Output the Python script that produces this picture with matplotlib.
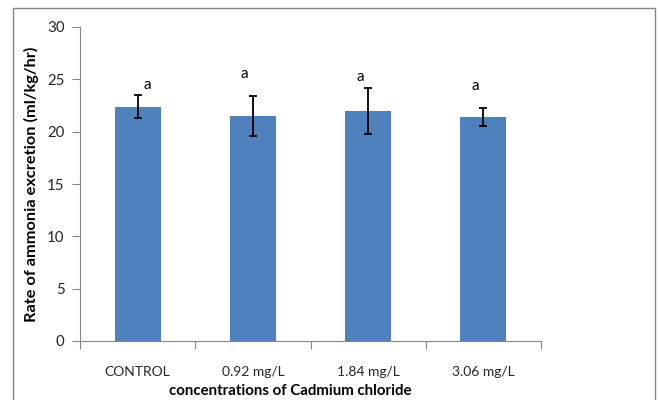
import matplotlib.pyplot as plt
from matplotlib.patches import Rectangle
import numpy as np

plt.rcParams['font.family'] = ['Lato', 'DejaVu Sans']

groups = ['CONTROL', '0.92 mg/L', '1.84 mg/L', '3.06 mg/L']
rate = [22.4, 21.5, 21.95, 21.4]
err = [1.1, 1.9, 2.2, 0.9]
letters = ['a', 'a', 'a', 'a']
letter_y = [24.5, 25.5, 25.2, 24.35]
letter_dx = [0.08, -0.07, -0.07, -0.07]

fig = plt.figure(figsize=(6.59, 4), dpi=100)
ax = fig.add_axes([80 / 659, 59 / 400, 461 / 659, 314 / 400])

# outer chart border
fig.patches.append(Rectangle((13 / 659, -0.05), 642 / 659, 1.03,
                             transform=fig.transFigure, fill=False,
                             edgecolor='#868686', linewidth=1.0))

x = np.arange(len(groups))
ax.bar(x, rate, width=0.4, color='#4F81BD', zorder=2)
ax.errorbar(x, rate, yerr=err, fmt='none', ecolor='black', elinewidth=1.3,
            capsize=2.6, capthick=1.3, zorder=3)
for i, t in enumerate(letters):
    ax.text(x[i] + letter_dx[i], letter_y[i], t, ha='center', va='center', fontsize=11)

ax.set_xlim(-0.5, len(groups) - 0.5)
ax.set_ylim(0, 30)
ax.set_yticks(range(0, 31, 5))
ax.set_xticks(x)
ax.set_xticklabels(groups)
ax.set_xticks(np.arange(-0.5, len(groups)), minor=True)
ax.tick_params(axis='x', which='major', length=0, pad=18, labelsize=10)
ax.tick_params(axis='x', which='minor', length=6, color='#868686', width=0.8)
ax.tick_params(axis='y', length=6, color='#868686', width=0.8, labelsize=10.8,
               labelcolor='#262626', pad=5)
ax.tick_params(axis='x', labelcolor='#262626')

for s in ['top', 'right']:
    ax.spines[s].set_visible(False)
for s in ['left', 'bottom']:
    ax.spines[s].set_color('#868686')
    ax.spines[s].set_linewidth(0.8)

ax.set_xlabel('concentrations of Cadmium chloride', fontsize=10.8, fontweight='bold')
ax.xaxis.set_label_coords(0.456, -0.138)
ax.set_ylabel('Rate of ammonia excretion (ml/kg/hr)', fontsize=11.8, fontweight='bold', labelpad=6)

fig.savefig('out.png', dpi=100)
